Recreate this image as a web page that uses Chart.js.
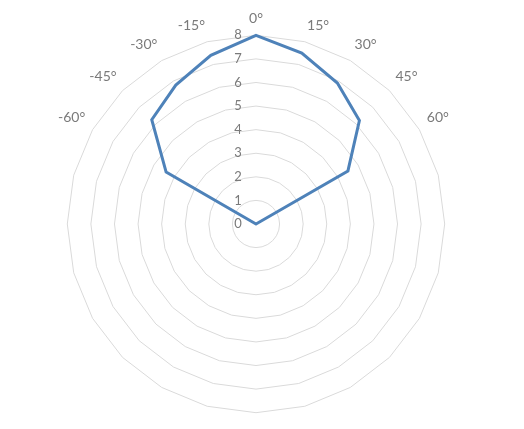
<!DOCTYPE html>
<html>
<head>
<meta charset="utf-8">
<script src="https://cdn.jsdelivr.net/npm/chart.js@4/dist/chart.umd.min.js"></script>
<style>
html,body{margin:0;padding:0;background:#fff;}
#wrap{width:524px;height:429px;}
</style>
</head>
<body>
<div id="wrap"><canvas id="c"></canvas></div>
<script>
const angleLabels = ['0°','15°','30°','45°','60°','','','','','','','','','','','','','','','','-60°','-45°','-30°','-15°'];
const seriesValues = [8, 7.5, 6.9, 6.2, 4.5, 0,0,0,0,0,0,0,0,0,0,0,0,0,0,0, 4.4, 6.25, 6.8, 7.4];
const tickValues = [0,1,2,3,4,5,6,7,8];

new Chart(document.getElementById('c'), {
  type: 'radar',
  data: {
    labels: angleLabels,
    datasets: [{
      data: seriesValues,
      borderColor: '#4e82b9',
      borderWidth: 3,
      backgroundColor: 'rgba(0,0,0,0)',
      fill: false,
      pointRadius: 0,
      pointHoverRadius: 0,
      tension: 0
    }]
  },
  options: {
    responsive: true,
    maintainAspectRatio: false,
    animation: false,
    layout: { padding: { top: 1, bottom: 0, left: 0, right: 11 } },
    plugins: { legend: { display: false }, tooltip: { enabled: false } },
    scales: {
      r: {
        min: -0.0001,
        max: 8,
        startAngle: 0,
        angleLines: { display: false },
        grid: { color: (ctx) => ctx.index === 0 ? 'rgba(0,0,0,0)' : '#dadada', lineWidth: 1 },
        afterBuildTicks: (scale) => { scale.ticks = tickValues.map(v => ({ value: v })); },
        ticks: {
          stepSize: 1,
          showLabelBackdrop: false,
          backdropPadding: { x: 2, y: -1 },
          color: '#7a7a7a',
          font: { family: 'Lato', size: 13 },
          callback: (v) => Math.round(v) + '\u2003\u2003\u2003  '
        },
        pointLabels: {
          color: '#7a7a7a',
          font: (ctx) => ({ family: 'Lato', size: ctx.label ? 14 : 1 }),
          padding: (ctx) => ctx.label ? 3 : 0
        }
      }
    }
  }
});
</script>
</body>
</html>
